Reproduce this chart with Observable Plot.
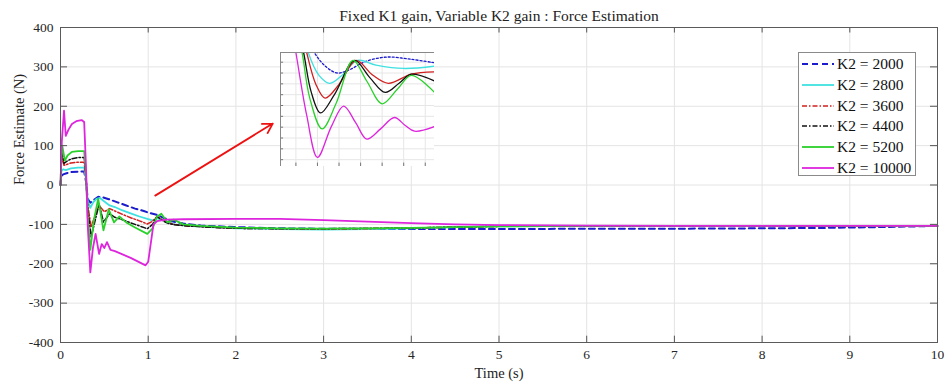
<!DOCTYPE html>
<html><head><meta charset="utf-8">
<script src="https://cdn.jsdelivr.net/npm/d3@7"></script>
<script src="https://cdn.jsdelivr.net/npm/@observablehq/plot@0.6"></script>
<style>
body{margin:0;background:#fff;}
#wrap{position:relative;width:950px;height:385px;font-family:"Liberation Serif","Times New Roman",serif;}
#inset{position:absolute;left:280px;top:52px;}
#legend{position:absolute;left:798px;top:52px;width:116px;height:121px;border:1px solid #8a8a8a;background:#fff;padding-top:1px;}
.lrow{display:flex;align-items:center;height:20.7px;font-size:15.5px;color:#111;}
.lrow svg{margin-left:3px;margin-right:3px;}
</style></head><body><div id="wrap"></div>
<script>
// ---- data ----
const seriesNames = ["K2 = 2000","K2 = 2800","K2 = 3600","K2 = 4400","K2 = 5200","K2 = 10000"];
const xTicks = [0,1,2,3,4,5,6,7,8,9,10];
const yTicks = [-400,-300,-200,-100,0,100,200,300,400];
const titleText = "Fixed K1 gain, Variable K2 gain : Force Estimation";
const xLabel = "Time (s)";
const yLabel = "Force Estimate (N)";

const t2000 = [0,0.01,0.03,0.07,0.12,0.2,0.27,0.29,0.31,0.34,0.38,0.43,0.48,0.55,0.65,0.75,0.85,0.95,1.0,1.1,1.18,1.27,1.4,1.6,2,2.5,3,4,5,6,7,8,8.7,9.3,10];
const v2000 = [0,22,27,30,33,34,34,10,-35,-45,-38,-30,-31,-36,-44,-52,-60,-66,-70,-76,-84,-92,-98,-103,-107,-110,-111,-112,-112,-111,-111,-110,-109,-107,-104];
const t2800 = [0,0.01,0.03,0.06,0.12,0.2,0.27,0.29,0.31,0.34,0.37,0.41,0.45,0.5,0.56,0.62,0.7,0.8,0.9,0.99,1.05,1.1,1.16,1.22,1.3,1.45,1.7,2,2.5,3,3.5,4,4.5,5,6,8,10];
const v2800 = [0,35,40,38,42,44,44,15,-40,-58,-45,-35,-33,-42,-52,-56,-64,-72,-80,-86,-90,-85,-88,-95,-100,-104,-107,-110,-112,-113,-112,-110,-107,-105,-104,-104,-104];
const t3600 = [0,0.01,0.02,0.04,0.07,0.12,0.2,0.27,0.29,0.31,0.35,0.39,0.44,0.5,0.56,0.62,0.7,0.8,0.9,0.99,1.05,1.1,1.16,1.22,1.3,1.45,1.7,2,2.5,3,3.5,4,4.5,5,6,8,10];
const v3600 = [0,55,70,50,52,56,58,58,20,-50,-107,-80,-52,-68,-60,-66,-74,-83,-91,-99,-92,-80,-88,-95,-100,-104,-107,-110,-111,-112,-111,-109,-107,-105,-104,-104,-104];
const t4400 = [0,0.01,0.02,0.04,0.07,0.12,0.2,0.27,0.29,0.31,0.35,0.39,0.44,0.49,0.56,0.62,0.7,0.8,0.9,0.99,1.05,1.1,1.16,1.22,1.3,1.45,1.7,2,2.5,3,3.5,4,4.5,5,6,8,10];
const v4400 = [0,65,82,55,60,66,70,70,25,-60,-132,-95,-48,-94,-73,-82,-88,-96,-104,-111,-100,-80,-90,-97,-101,-104,-107,-110,-111,-111,-110,-109,-107,-105,-104,-104,-104];
const t5200 = [0,0.01,0.02,0.05,0.08,0.13,0.2,0.27,0.29,0.31,0.34,0.38,0.43,0.49,0.55,0.61,0.67,0.75,0.85,0.99,1.05,1.1,1.15,1.22,1.29,1.4,1.6,2,2.5,3,3.5,4,4.5,5,6,8,10];
const v5200 = [0,70,100,62,75,84,86,86,30,-80,-165,-90,-35,-115,-62,-95,-80,-95,-108,-124,-110,-80,-73,-95,-88,-100,-104,-108,-110,-111,-110,-109,-107,-105,-104,-104,-104];
const t10000 = [0,0.015,0.04,0.06,0.09,0.13,0.18,0.24,0.27,0.29,0.31,0.34,0.37,0.40,0.44,0.47,0.50,0.53,0.57,0.62,0.8,0.97,1.0,1.06,1.1,1.2,1.4,2,2.5,3,3.5,4,4.5,5,6,7,8,9,10];
const v10000 = [0,110,189,125,140,155,162,165,160,50,-100,-222,-160,-124,-175,-150,-160,-145,-165,-168,-185,-204,-195,-100,-92,-88,-87,-86,-86,-89,-93,-97,-100,-102,-103,-104,-104,-104,-104];

// inset (zoomed detail), normalized coordinates
const iu2000 = [0.15,0.22,0.30,0.37,0.45,0.55,0.69,0.85,1.0];
const iw2000 = [1.25,1.0,0.87,0.82,0.85,0.92,0.96,0.94,0.91];
const iu2800 = [0.13,0.18,0.25,0.32,0.40,0.50,0.62,0.80,1.0];
const iw2800 = [1.3,1.0,0.80,0.73,0.80,0.93,0.89,0.86,0.88];
const iu3600 = [0.12,0.17,0.23,0.29,0.38,0.49,0.60,0.70,0.85,1.0];
const iw3600 = [1.3,1.0,0.72,0.60,0.72,0.93,0.80,0.73,0.81,0.83];
const iu4400 = [0.10,0.15,0.20,0.26,0.35,0.48,0.58,0.68,0.77,0.85,1.0];
const iw4400 = [1.3,1.0,0.65,0.47,0.63,0.93,0.78,0.65,0.73,0.81,0.75];
const iu5200 = [0.09,0.14,0.19,0.27,0.36,0.47,0.56,0.66,0.76,0.85,1.0];
const iw5200 = [1.3,1.0,0.60,0.33,0.55,0.93,0.75,0.55,0.68,0.80,0.65];
const iu10000 = [0.05,0.10,0.17,0.24,0.33,0.41,0.49,0.56,0.65,0.74,0.81,0.87,1.0];
const iw10000 = [1.4,1.0,0.45,0.08,0.35,0.53,0.38,0.24,0.33,0.43,0.36,0.31,0.35];
const insetXTicks = [0.1,0.24,0.38,0.52,0.66,0.8,0.94];
const insetYTicks = [0.06,0.155,0.25,0.345,0.44,0.535,0.63,0.725,0.82,0.915];

const arrowSpec = [{x1:1.08,y1:-27,x2:2.42,y2:156}];

// ---- styles ----
const colors = ["#1c1ccc","#3fe0e0","#d21f1f","#111111","#2bd12b","#dd25dd"];
const dashes = ["6,4",null,"5,2,1.5,2","5,2,1.5,2",null,null];
const widths = [2,1.8,1.5,1.5,1.8,1.8];
const insetDashes = ["2,2",null,null,null,null,null];

const mainT = [t2000,t2800,t3600,t4400,t5200,t10000];
const mainV = [v2000,v2800,v3600,v4400,v5200,v10000];
const insU = [iu2000,iu2800,iu3600,iu4400,iu5200,iu10000];
const insW = [iw2000,iw2800,iw3600,iw4400,iw5200,iw10000];

const font = "'Liberation Serif','Times New Roman',serif";

const lineMarks = seriesNames.map((name,i)=>{
  const rows = mainT[i].map((t,j)=>({t, v: mainV[i][j]}));
  return Plot.line(rows,{x:"t",y:"v",stroke:colors[i],strokeWidth:widths[i],strokeDasharray:dashes[i]||undefined});
});

const main = Plot.plot({
  width:950,height:385,marginLeft:60,marginRight:13,marginTop:27,marginBottom:43,
  x:{domain:[0,10]},y:{domain:[-400,400]},
  style:{fontFamily:font,fontSize:"13.5px",color:"#262626",background:"white",overflow:"visible"},
  marks:[
    Plot.ruleX(xTicks,{stroke:"#e4e4e4"}),
    Plot.ruleY(yTicks,{stroke:"#e4e4e4"}),
    ...lineMarks,
    Plot.ruleX(xTicks,{y1:-400,y2:-384,stroke:"#555"}),
    Plot.ruleX(xTicks,{y1:400,y2:386,stroke:"#555"}),
    Plot.ruleY(yTicks,{x1:0,x2:0.08,stroke:"#555"}),
    Plot.ruleY(yTicks,{x1:10,x2:9.92,stroke:"#555"}),
    Plot.frame({stroke:"#5a5a5a"}),
    Plot.axisX(xTicks,{tickSize:0,tickPadding:7,label:null,fontSize:13.5,tickFormat:d=>String(d)}),
    Plot.axisY(yTicks,{tickSize:0,tickPadding:7,label:null,fontSize:13.5,tickFormat:d=>String(d)}),
    Plot.arrow(arrowSpec,{x1:"x1",y1:"y1",x2:"x2",y2:"y2",stroke:"#ee1111",strokeWidth:1.8,headLength:9}),
    Plot.text([titleText],{frameAnchor:"top",lineAnchor:"middle",dy:-11,fontSize:15.5,fill:"#222"}),
    Plot.text([xLabel],{frameAnchor:"bottom",lineAnchor:"middle",dy:31,fontSize:14.5,fill:"#222"}),
    Plot.text([yLabel],{frameAnchor:"left",dx:-41,rotate:-90,fontSize:14.5,fill:"#222"})
  ]
});
const wrap = document.getElementById("wrap");
wrap.appendChild(main);

// inset
const insetLines = seriesNames.map((name,i)=>{
  const rows = insU[i].map((u,j)=>({u, w: insW[i][j]}));
  return Plot.line(rows,{x:"u",y:"w",stroke:colors[i],strokeWidth:1.3,curve:"catmull-rom",clip:true,strokeDasharray:insetDashes[i]||undefined});
});
const inset = Plot.plot({
  width:154,height:114,margin:0,
  x:{domain:[0,1],axis:null},y:{domain:[0,1],axis:null},
  style:{background:"white"},
  marks:[
    Plot.ruleX(insetXTicks,{stroke:"#e6e6e6"}),
    Plot.ruleY(insetYTicks,{stroke:"#e6e6e6"}),
    ...insetLines,
    Plot.ruleX(insetXTicks,{y1:0,y2:0.03,stroke:"#777"}),
    Plot.ruleY(insetYTicks,{x1:0,x2:0.02,stroke:"#777"}),
    Plot.frame({stroke:"#888"})
  ]
});
const insetDiv = document.createElement("div");
insetDiv.id = "inset";
insetDiv.appendChild(inset);
wrap.appendChild(insetDiv);

// legend
const leg = document.createElement("div");
leg.id = "legend";
seriesNames.forEach((name,i)=>{
  const row = document.createElement("div");
  row.className = "lrow";
  const sw = d3.create("svg").attr("width",32).attr("height",10);
  sw.append("line").attr("x1",0).attr("x2",32).attr("y1",5).attr("y2",5)
    .attr("stroke",colors[i]).attr("stroke-width",widths[i])
    .attr("stroke-dasharray",dashes[i]);
  row.appendChild(sw.node());
  const sp = document.createElement("span");
  sp.textContent = name;
  row.appendChild(sp);
  leg.appendChild(row);
});
wrap.appendChild(leg);
</script></body></html>
